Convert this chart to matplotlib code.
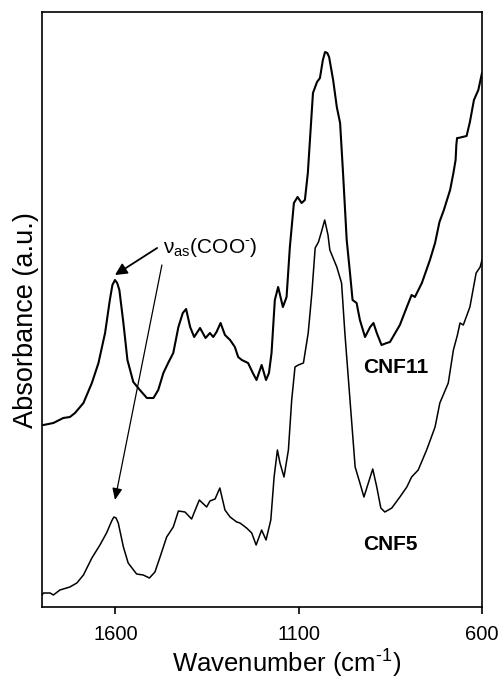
import matplotlib
matplotlib.use("Agg")
import matplotlib.pyplot as plt

plt.rcParams['font.family'] = ['Liberation Sans', 'DejaVu Sans']
plt.rcParams['mathtext.fontset'] = 'custom'
plt.rcParams['mathtext.rm'] = 'Liberation Sans'

# Wavenumber (cm-1) and absorbance (a.u., offset) for CNF11
wn_cnf11 = [1800, 1796, 1769, 1742, 1724, 1710, 1687, 1664, 1646, 1628, 1615, 1608, 1601,
            1595, 1589, 1578, 1567, 1551, 1533, 1514, 1496, 1483, 1469, 1456, 1442, 1428,
            1416, 1407, 1396, 1385, 1369, 1354, 1342, 1333, 1324, 1313, 1301, 1287,
            1274, 1265, 1255, 1238, 1225, 1215, 1201, 1189, 1181, 1174, 1165, 1156,
            1143, 1133, 1124, 1113, 1103, 1092, 1083, 1075, 1061, 1050, 1042, 1034,
            1028, 1022, 1017, 1006, 996, 987, 979, 969, 960, 953, 942, 933, 919, 905, 896,
            887, 874, 860, 851, 824, 805, 792, 783, 764, 742, 728, 716, 704, 687, 678,
            672, 670, 668, 665, 642, 633, 622, 610, 603, 600]
abs_cnf11 = [1.82, 1.82, 1.84, 1.89, 1.90, 1.94, 2.04, 2.24, 2.44, 2.74, 3.07, 3.22, 3.27,
             3.24, 3.17, 2.84, 2.47, 2.25, 2.17, 2.09, 2.09, 2.17, 2.34, 2.44, 2.54, 2.80,
             2.94, 2.98, 2.80, 2.70, 2.79, 2.69, 2.74, 2.70, 2.75, 2.84, 2.72, 2.67,
             2.60, 2.50, 2.47, 2.44, 2.34, 2.27, 2.42, 2.27, 2.34, 2.54, 3.07, 3.20,
             3.00, 3.10, 3.60, 4.04, 4.10, 4.04, 4.07, 4.34, 5.14, 5.25, 5.29, 5.47,
             5.55, 5.54, 5.50, 5.27, 5.00, 4.84, 4.34, 3.67, 3.34, 3.07, 3.04, 2.87, 2.70,
             2.80, 2.84, 2.74, 2.62, 2.64, 2.65, 2.82, 3.00, 3.12, 3.10, 3.24, 3.47,
             3.64, 3.85, 3.97, 4.17, 4.34, 4.47, 4.62, 4.69, 4.69, 4.71, 4.85, 5.07,
             5.17, 5.29, 5.34]

# Wavenumber (cm-1) and absorbance (a.u.) for CNF5
wn_cnf5 = [1800, 1796, 1778, 1769, 1751, 1724, 1705, 1687, 1664, 1642, 1624, 1610, 1604,
           1598, 1592, 1578, 1565, 1542, 1524, 1507, 1492, 1478, 1460, 1442, 1428, 1410,
           1392, 1371, 1351, 1342, 1328, 1315, 1301, 1287, 1269, 1260, 1242, 1228,
           1216, 1201, 1189, 1176, 1167, 1158, 1151, 1140, 1128, 1119, 1110, 1101,
           1087, 1074, 1064, 1055, 1046, 1038, 1029, 1020, 1015, 996, 983, 974, 960,
           946, 933, 922, 910, 898, 887, 876, 865, 846, 824, 805, 792, 774, 751, 728,
           715, 692, 678, 667, 660, 651, 633, 616, 605, 600]
abs_cnf5 = [0.12, 0.14, 0.14, 0.12, 0.17, 0.20, 0.24, 0.32, 0.49, 0.62, 0.74, 0.86, 0.90,
            0.89, 0.84, 0.60, 0.44, 0.33, 0.32, 0.29, 0.35, 0.50, 0.70, 0.80, 0.96, 0.95,
            0.88, 1.07, 1.00, 1.06, 1.08, 1.19, 0.97, 0.90, 0.85, 0.84, 0.79, 0.74,
            0.62, 0.77, 0.67, 0.87, 1.30, 1.57, 1.44, 1.30, 1.57, 2.07, 2.40, 2.42,
            2.44, 2.74, 3.14, 3.59, 3.65, 3.75, 3.87, 3.72, 3.57, 3.40, 3.24, 2.74,
            2.07, 1.40, 1.24, 1.10, 1.24, 1.38, 1.20, 0.99, 0.95, 0.99, 1.10, 1.20,
            1.30, 1.37, 1.57, 1.80, 2.04, 2.24, 2.57, 2.72, 2.84, 2.82, 3.00, 3.34,
            3.40, 3.47]

x_ticks = [1600, 1100, 600]
x_tick_labels = ["1600", "1100", "600"]

fig = plt.figure(figsize=(5.04, 6.80), dpi=100)
ax = fig.add_axes([42 / 504, 73 / 680, 440 / 504, 595 / 680])

ax.plot(wn_cnf11, abs_cnf11, color='black', lw=1.5, solid_joinstyle='round')
ax.plot(wn_cnf5, abs_cnf5, color='black', lw=1.1, solid_joinstyle='round')

ax.set_xlim(1800, 600)
ax.set_ylim(0, 5.95)
ax.set_xticks(x_ticks)
ax.set_xticklabels(x_tick_labels)
ax.set_yticks([])
ax.tick_params(axis='x', direction='out', length=4.7, width=1.2, labelsize=14.5, pad=8)
for s in ax.spines.values():
    s.set_linewidth(1.2)
    s.set_color('black')

ax.set_xlabel("Wavenumber (cm$^{\\text{-1}}$)", fontsize=18.5, labelpad=3)
ax.xaxis.set_label_coords(0.556, -0.066, transform=ax.transAxes)
ax.set_ylabel("Absorbance (a.u.)", fontsize=19.5, labelpad=2)
ax.yaxis.set_label_coords(-0.007, 0.482, transform=ax.transAxes)

ax.text(1342, 3.60, "ν$_{\\text{as}}$(COO$^{\\text{-}}$)", fontsize=15,
        ha='center', va='center')
ax.annotate('', xy=(1601, 3.32), xytext=(1486, 3.59),
            arrowprops=dict(arrowstyle='-|>,head_length=0.7,head_width=0.35',
                            color='black', lw=1.3, shrinkA=0, shrinkB=0))
ax.annotate('', xy=(1601, 1.07), xytext=(1473, 3.42),
            arrowprops=dict(arrowstyle='-|>,head_length=0.7,head_width=0.3',
                            color='black', lw=0.9, shrinkA=0, shrinkB=0))

ax.text(925, 2.40, "CNF11", fontsize=15, fontweight='bold', ha='left', va='center')
ax.text(925, 0.63, "CNF5", fontsize=15, fontweight='bold', ha='left', va='center')

fig.savefig("out.png", dpi=100)
